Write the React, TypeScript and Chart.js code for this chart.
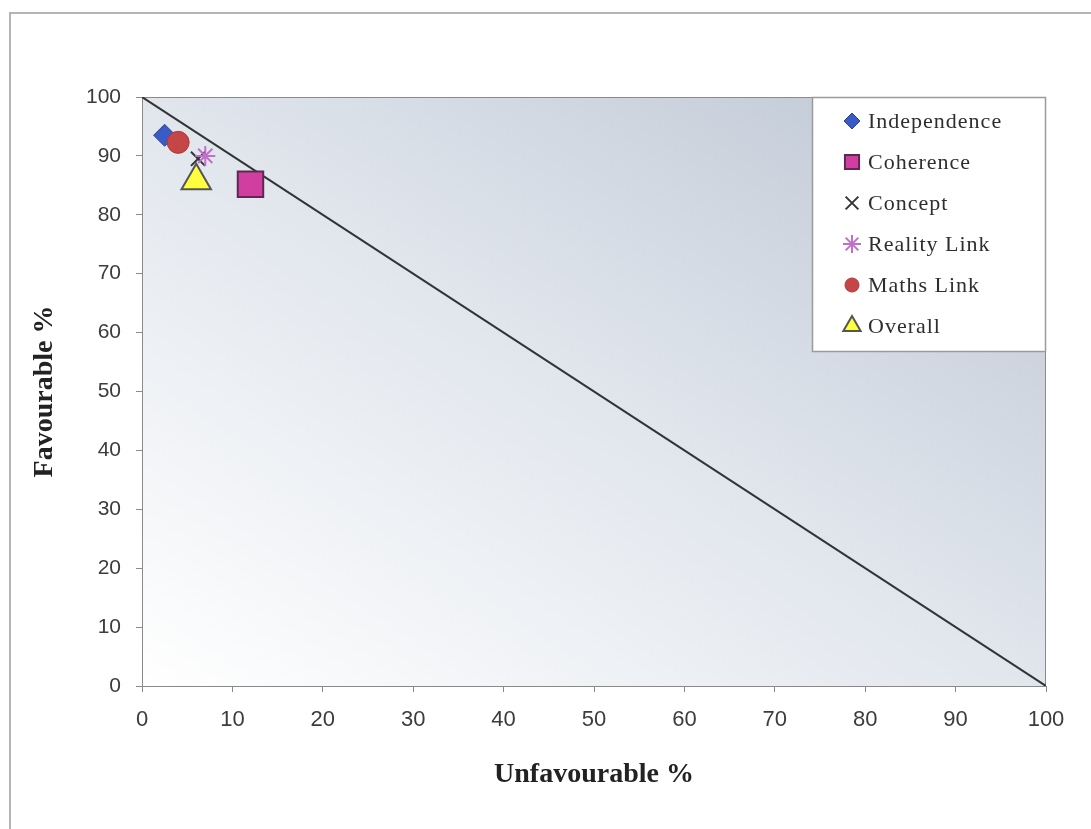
import React, { useEffect, useRef } from "react";
import { Chart, registerables } from "chart.js";
import { drawPoint } from "chart.js/helpers";

Chart.register(...registerables);

// ---- data ----
const seriesNames = ["Independence", "Coherence", "Concept", "Reality Link", "Maths Link", "Overall"];
const unfavourable = [2.5, 12, 6.2, 7, 4, 6];
const favourable = [93.5, 85.2, 89.5, 90, 92.3, 85.8];
const diagonalX = [0, 100];
const diagonalY = [100, 0];
const tickValues = [0, 10, 20, 30, 40, 50, 60, 70, 80, 90, 100];
const xTitle = "Unfavourable %";
const yTitle = "Favourable %";

// ---- styles ----
const markerStyles = [
  { pointStyle: "rectRot", radius: 11, bg: "#3a5bc7", border: "#2a448f", bw: 1, order: 6, lr: 8 },
  { pointStyle: "rect", radius: 18, bg: "#d03ea0", border: "#5a2a50", bw: 2, order: 2, lr: 10 },
  { pointStyle: "crossRot", radius: 10, bg: "#333333", border: "#333333", bw: 2, order: 5, lr: 9 },
  { pointStyle: "star", radius: 10, bg: "#c070c8", border: "#c070c8", bw: 2, order: 4, lr: 9 },
  { pointStyle: "circle", radius: 11, bg: "#c44646", border: "#b03a3a", bw: 1, order: 3, lr: 7 },
  { pointStyle: "triangle", radius: 17, bg: "#ffff40", border: "#555555", bw: 2, order: 1, lr: 10 },
];

const bgPlugin = {
  id: "bgPlugin",
  beforeDraw(chart: any) {
    const { ctx, chartArea } = chart;
    const { left, top, right, bottom } = chartArea;
    ctx.save();
    // outer frame
    ctx.strokeStyle = "#b4b4b4";
    ctx.lineWidth = 2;
    ctx.strokeRect(10, 13, 1200, 1000);
    // plot gradient
    const w = right - left;
    const h = bottom - top;
    const cx = (left + right) / 2;
    const cy = (top + bottom) / 2;
    const len = Math.sqrt(w * w + h * h);
    const ux = h / len;
    const uy = -w / len;
    const proj = (w / 2) * ux + (-h / 2) * uy;
    const g = ctx.createLinearGradient(cx - ux * proj, cy - uy * proj, cx + ux * proj, cy + uy * proj);
    g.addColorStop(0, "#ffffff");
    g.addColorStop(0.5, "#e1e6ed");
    g.addColorStop(1, "#bcc5d2");
    ctx.fillStyle = g;
    ctx.fillRect(left, top, w, h);
    ctx.strokeStyle = "#8a8a8a";
    ctx.lineWidth = 1;
    ctx.strokeRect(left + 0.5, top + 0.5, w - 1, h);
    ctx.restore();
  },
};

const legendPlugin = {
  id: "customLegend",
  afterDraw(chart: any) {
    const { ctx, chartArea } = chart;
    const boxW = 234;
    const boxH = 255;
    const x0 = chartArea.right - boxW;
    const y0 = chartArea.top;
    ctx.save();
    ctx.fillStyle = "#ffffff";
    ctx.fillRect(x0, y0, boxW, boxH);
    ctx.strokeStyle = "#9a9a9a";
    ctx.lineWidth = 1.5;
    ctx.strokeRect(x0 + 0.5, y0 + 0.5, boxW - 1, boxH - 1);
    seriesNames.forEach((name, i) => {
      const st = markerStyles[i];
      const y = y0 + 24 + i * 41;
      const mx = x0 + 40;
      ctx.fillStyle = st.bg;
      ctx.strokeStyle = st.border;
      ctx.lineWidth = st.bw;
      drawPoint(ctx, { pointStyle: st.pointStyle, radius: st.lr, rotation: 0, borderWidth: st.bw }, mx, y);
      ctx.fillStyle = "#2e2e2e";
      (ctx as any).letterSpacing = "1px";
      ctx.font = "22px 'Liberation Serif', serif";
      ctx.textAlign = "left";
      ctx.textBaseline = "middle";
      ctx.fillText(name, x0 + 56, y + 1);
      (ctx as any).letterSpacing = "0px";
    });
    ctx.restore();
  },
};

export default function App() {
  const ref = useRef<HTMLCanvasElement | null>(null);
  useEffect(() => {
    document.body.style.margin = "0";
    const canvas = ref.current;
    if (!canvas) return;
    const datasets: any[] = [
      {
        type: "line",
        label: "diagonal",
        data: diagonalX.map((x, i) => ({ x, y: diagonalY[i] })),
        borderColor: "#333333",
        borderWidth: 2,
        pointRadius: 0,
        fill: false,
        order: 10,
      },
      ...seriesNames.map((name, i) => {
        const st = markerStyles[i];
        return {
          type: "scatter",
          label: name,
          data: [{ x: unfavourable[i], y: favourable[i] }],
          pointStyle: st.pointStyle,
          pointRadius: st.radius,
          pointBackgroundColor: st.bg,
          pointBorderColor: st.border,
          pointBorderWidth: st.bw,
          order: st.order,
        };
      }),
    ];
    const chart = new Chart(canvas, {
      type: "scatter",
      data: { datasets },
      options: {
        responsive: false,
        animation: false,
        devicePixelRatio: 1,
        layout: { padding: { left: 20, top: 97, right: 45, bottom: 30 } },
        plugins: { legend: { display: false }, tooltip: { enabled: false } },
        scales: {
          x: {
            type: "linear",
            min: 0,
            max: 100,
            afterBuildTicks: (s: any) => {
              s.ticks = tickValues.map((v) => ({ value: v }));
            },
            afterFit: (s: any) => {
              s.height = 113;
            },
            ticks: {
              font: { family: "'Liberation Sans', Arial, sans-serif", size: 22 },
              color: "#3c3c3c",
              padding: 15,
              maxRotation: 0,
            },
            grid: { drawOnChartArea: false, drawTicks: true, tickLength: 6, color: "#8a8a8a" },
            border: { display: true, color: "#8a8a8a" },
            title: {
              display: true,
              text: xTitle,
              font: { family: "'Liberation Serif', serif", size: 28, weight: "bold" },
              color: "#222222",
              padding: { top: 0, bottom: 7 },
            },
          },
          y: {
            type: "linear",
            min: 0,
            max: 100,
            afterBuildTicks: (s: any) => {
              s.ticks = tickValues.map((v) => ({ value: v }));
            },
            afterFit: (s: any) => {
              s.width = 122;
            },
            ticks: {
              font: { family: "'Liberation Sans', Arial, sans-serif", size: 21 },
              color: "#3c3c3c",
              padding: 15,
            },
            grid: { drawOnChartArea: false, drawTicks: true, tickLength: 6, color: "#8a8a8a" },
            border: { display: true, color: "#8a8a8a" },
            title: {
              display: true,
              text: yTitle,
              font: { family: "'Liberation Serif', serif", size: 28, weight: "bold" },
              color: "#222222",
              padding: { top: 8, bottom: 0 },
            },
          },
        },
      },
      plugins: [bgPlugin, legendPlugin],
    } as any);
    return () => chart.destroy();
  }, []);
  return (
    <div style={{ width: 1091, height: 829 }}>
      <canvas ref={ref} width={1091} height={829} style={{ display: "block" }} />
    </div>
  );
}
